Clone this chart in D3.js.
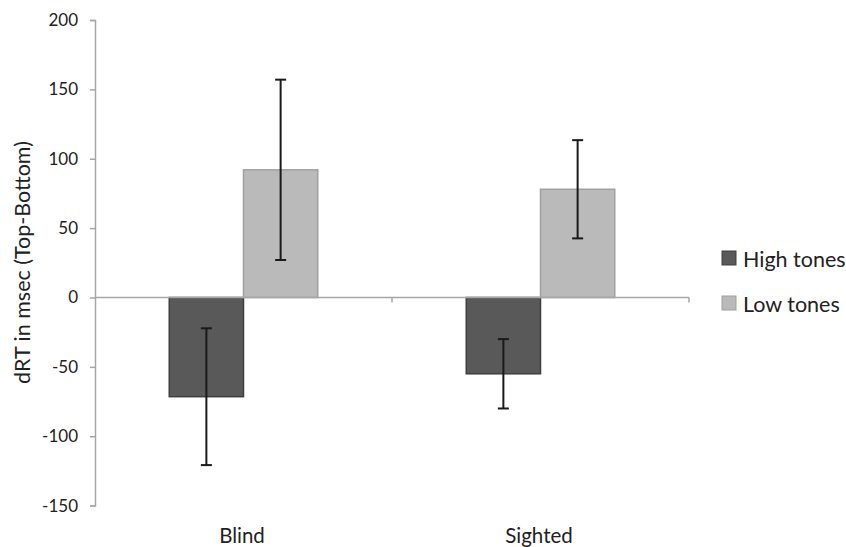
<!DOCTYPE html>
<html><head><meta charset="utf-8">
<script src="https://cdn.jsdelivr.net/npm/d3@7"></script>
<style>body{margin:0;background:#fff}svg{display:block}text{font-family:Lato,sans-serif;fill:#222}</style>
</head><body><svg id="c" width="846" height="547"></svg>
<script>
const categories = ["Blind", "Sighted"];
const seriesNames = ["High tones", "Low tones"];
const highTones = [-71.5, -55];
const lowTones = [92, 78];
const highErr = [49.3, 25];
const lowErr = [65, 35.4];
const yTicks = [-150, -100, -50, 0, 50, 100, 150, 200];

const colors = ["#595959", "#bababa"];
const strokes = ["#3f3f3f", "#a0a0a0"];
const svg = d3.select("#c");
const x = d3.scaleBand().domain(categories).range([95, 689]);
const y = d3.scaleLinear().domain([-150, 200]).range([505.6, 20]);
const xs = d3.scaleBand().domain(seriesNames).range([0, x.bandwidth()]).paddingInner(0).paddingOuter(1);

const data = categories.map((c, i) => ({c, vals: [
  {s: seriesNames[0], v: highTones[i], e: highErr[i], k: 0},
  {s: seriesNames[1], v: lowTones[i], e: lowErr[i], k: 1}]}));

// y axis
const ya = svg.append("g").attr("transform", "translate(95,0)")
  .call(d3.axisLeft(y).tickValues(yTicks).tickSize(5).tickPadding(12).tickFormat(d => String(d)));
ya.select(".domain").attr("stroke", "#a6a6a6").attr("stroke-width", 1.5);
ya.selectAll(".tick line").attr("stroke", "#a6a6a6").attr("stroke-width", 1.5);
ya.selectAll(".tick text").attr("font-size", null).attr("font-family", null).style("font-size", "17px").style("font-family", "Lato").attr("fill", "#222");

// bars
const g = svg.append("g");
data.forEach(d => {
  d.vals.forEach(v => {
    const bx = x(d.c) + xs(v.s);
    g.append("rect").attr("x", bx).attr("width", xs.bandwidth())
      .attr("y", y(Math.max(0, v.v))).attr("height", Math.abs(y(v.v) - y(0)))
      .attr("fill", colors[v.k]).attr("stroke", strokes[v.k]).attr("stroke-width", 1.5);
  });
});

// x axis line at zero
svg.append("line").attr("x1", 95).attr("x2", 689).attr("y1", y(0)).attr("y2", y(0))
  .attr("stroke", "#a6a6a6").attr("stroke-width", 1.5);
categories.slice(1).forEach(c => {
  svg.append("line").attr("x1", x(c)).attr("x2", x(c)).attr("y1", y(0)).attr("y2", y(0) + 5)
    .attr("stroke", "#a6a6a6").attr("stroke-width", 1.5);
});
svg.append("line").attr("x1", 689).attr("x2", 689).attr("y1", y(0)).attr("y2", y(0) + 5)
    .attr("stroke", "#a6a6a6").attr("stroke-width", 1.5);

// error bars
data.forEach(d => {
  d.vals.forEach(v => {
    const cx = x(d.c) + xs(v.s) + xs.bandwidth() / 2;
    const eg = svg.append("g").attr("stroke", "#1a1a1a").attr("stroke-width", 2);
    eg.append("line").attr("x1", cx).attr("x2", cx).attr("y1", y(v.v + v.e)).attr("y2", y(v.v - v.e));
    [v.v + v.e, v.v - v.e].forEach(t => eg.append("line").attr("x1", cx - 5.5).attr("x2", cx + 5.5).attr("y1", y(t)).attr("y2", y(t)));
  });
});

// category labels
categories.forEach(c => {
  svg.append("text").attr("x", x(c) + x.bandwidth() / 2 - 1.5).attr("y", 543).attr("text-anchor", "middle")
    .style("font-size", "20.5px").text(c);
});

// y label
svg.append("text").attr("transform", "translate(30,262.5) rotate(-90)").attr("text-anchor", "middle")
  .style("font-size", "21.5px").text("dRT in msec (Top-Bottom)");

// legend
seriesNames.forEach((s, i) => {
  const ly = 251 + i * 45;
  svg.append("rect").attr("x", 722).attr("y", ly).attr("width", 14).attr("height", 14)
    .attr("fill", colors[i]).attr("stroke", strokes[i]).attr("stroke-width", 1);
  svg.append("text").attr("x", 743).attr("y", ly + 15.5).style("font-size", "21.5px").text(s);
});
</script></body></html>
